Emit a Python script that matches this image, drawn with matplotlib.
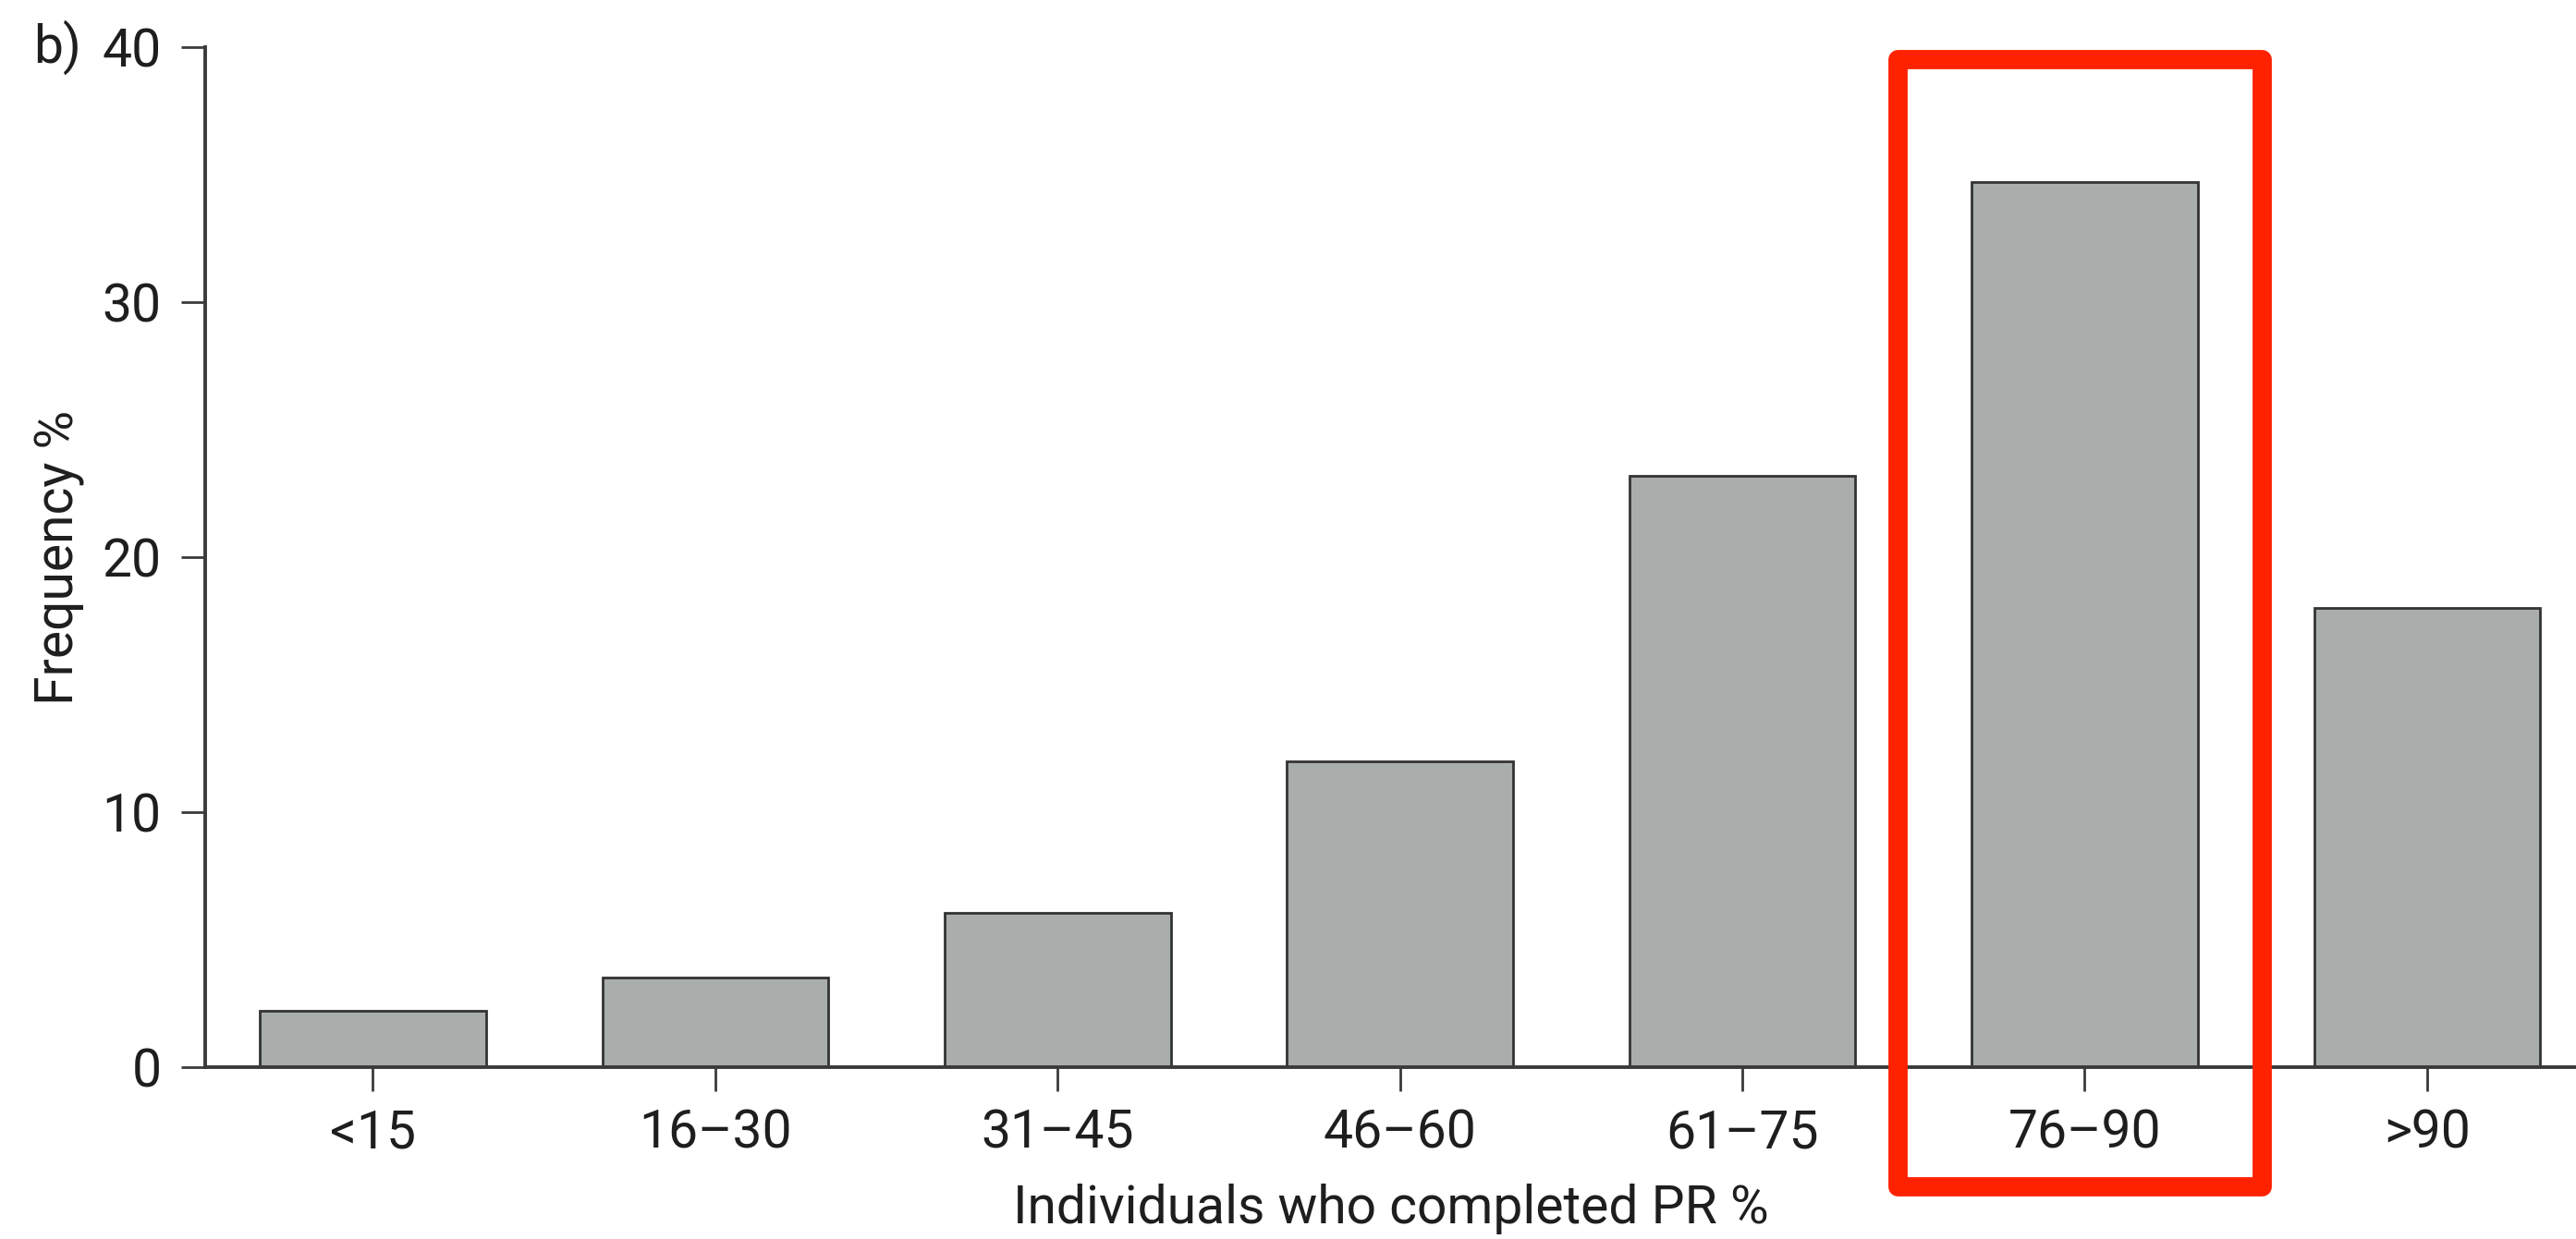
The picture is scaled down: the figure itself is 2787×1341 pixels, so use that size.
import matplotlib
matplotlib.use("Agg")
import matplotlib.pyplot as plt
from matplotlib.patches import Rectangle
from matplotlib.transforms import blended_transform_factory

categories = ["<15", "16\u201330", "31\u201345", "46\u201360", "61\u201375", "76\u201390", ">90"]
frequency = [2.2, 3.5, 6.05, 12.0, 23.2, 34.7, 18.0]
yticks = [0, 10, 20, 30, 40]
highlight = "76\u201390"

plt.rcParams["font.family"] = ["Roboto", "DejaVu Sans"]

W, H, DPI = 2787, 1341, 100
fig = plt.figure(figsize=(W / DPI, H / DPI), dpi=DPI)
ax = fig.add_axes([222 / W, 1 - 1155 / H, 1 - 222 / W, (1155 - 51) / H])

dark = "#3a3a3a"
text_col = "#1e1e1e"
fs = 41

x = list(range(len(categories)))
ax.bar(x, frequency, width=0.66, color="#a9aead", edgecolor="#333333",
       linewidth=2.0, zorder=3)

ax.set_xlim(-0.49, 6.435)
ax.set_ylim(0, 40)
ax.set_xticks(x)
ax.set_xticklabels(categories)
ax.set_yticks(yticks)

for side in ("top", "right"):
    ax.spines[side].set_visible(False)
for side in ("left", "bottom"):
    ax.spines[side].set_color(dark)
    ax.spines[side].set_linewidth(2.8)
ax.spines["bottom"].set_zorder(4)

ax.tick_params(axis="both", colors=dark, labelcolor=text_col, length=19,
               width=2.0, labelsize=fs)
ax.tick_params(axis="y", pad=15)
ax.tick_params(axis="x", pad=13)

ax.set_xlabel("Individuals who completed PR %", fontsize=fs, color=text_col,
              labelpad=19)
ax.set_ylabel("Frequency %", fontsize=fs, color=text_col)
ax.yaxis.set_label_coords(-0.0507, 0.5)

fig.text(36 / W, 1 - 68 / H, "b)", fontsize=fs, color=text_col,
         ha="left", va="baseline")

# red highlight frame around the 76-90 category
hi = categories.index(highlight)
trans = blended_transform_factory(ax.transData, ax.transAxes)
x_left, x_right = hi - 0.546, hi + 0.516
y_top, y_bot = 0.9878, -0.1164
frame = Rectangle((x_left, y_bot), x_right - x_left, y_top - y_bot,
                  transform=trans, fill=False, edgecolor="#ff2200",
                  linewidth=15, joinstyle="round", clip_on=False, zorder=6)
ax.add_patch(frame)

fig.savefig("out.png", dpi=DPI, facecolor="white")
